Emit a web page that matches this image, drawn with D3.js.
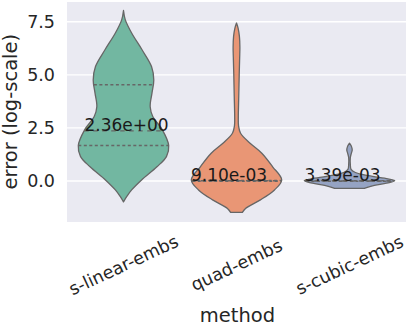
<!DOCTYPE html>
<html>
<head>
<meta charset="utf-8">
<script src="https://cdn.jsdelivr.net/npm/d3@7"></script>
<style>
  html, body { margin: 0; padding: 0; background: #ffffff; }
  svg { display: block; }
  text { font-family: "DejaVu Sans", sans-serif; }
</style>
</head>
<body>
<svg id="chart" width="410" height="326"></svg>
<script>
// ---------------- data ----------------
const categories = ["s-linear-embs", "quad-embs", "s-cubic-embs"];
const yTicks = [0.0, 2.5, 5.0, 7.5];
const medianLabels = ["2.36e+00", "9.10e-03", "3.39e-03"];
const medians = [2.36, 0.0091, 0.00339];
const q1s = [1.67, -0.01, -0.01];
const q3s = [4.53, 0.03, 0.02];
// density profiles: [value, relative half-width]
const densLinear = [
  [8.03, 0], [7.59, 0.04], [6.97, 0.18], [6.18, 0.41], [5.39, 0.62], [4.76, 0.67],
  [4.14, 0.63], [3.50, 0.59], [3.03, 0.65], [2.41, 0.86], [1.67, 1.0], [1.15, 0.95],
  [0.67, 0.74], [0.05, 0.40], [-0.42, 0.18], [-0.74, 0.07], [-0.98, 0]
];
const densQuad = [
  [7.44, 0], [7.2, 0.035], [6.8, 0.065], [6.3, 0.075], [5.8, 0.07], [5.0, 0.06],
  [4.0, 0.05], [3.0, 0.04], [2.6, 0.045], [2.25, 0.09], [1.78, 0.30], [1.31, 0.56],
  [0.67, 0.80], [0.05, 1.0], [-0.42, 0.84], [-0.9, 0.52], [-1.29, 0.2], [-1.48, 0.13]
];
const densCubic = [
  [1.78, 0], [1.62, 0.045], [1.46, 0.06], [1.3, 0.04], [1.1, 0.018], [0.8, 0.018],
  [0.55, 0.035], [0.4, 0.13], [0.25, 0.42], [0.1, 0.85], [0.02, 1.0], [-0.08, 0.88],
  [-0.2, 0.55], [-0.32, 0.36], [-0.35, 0.33]
];
const densities = [densLinear, densQuad, densCubic];
const colors = ["#72b7a1", "#e99675", "#95a3c3"];

// ---------------- layout ----------------
const svg = d3.select("#chart");
const plot = { left: 67, right: 406, top: 2, bottom: 222 };

const x = d3.scaleBand().domain(categories).range([plot.left, plot.right]).padding(0);
const y = d3.scaleLinear().domain([-1.93, 8.43]).range([plot.bottom, plot.top]);
const w = d3.scaleLinear().domain([0, 1]).range([0, x.bandwidth() * 0.4]);
const cx = c => x(c) + x.bandwidth() / 2;

// background
svg.append("rect")
  .attr("x", plot.left).attr("y", plot.top)
  .attr("width", plot.right - plot.left).attr("height", plot.bottom - plot.top)
  .attr("fill", "#eaeaf2");

// grid
svg.append("g").selectAll("line").data(yTicks).join("line")
  .attr("x1", plot.left).attr("x2", plot.right)
  .attr("y1", d => y(d)).attr("y2", d => y(d))
  .attr("stroke", "#ffffff").attr("stroke-width", 1.3);

// violins
const edge = "#666666";
categories.forEach((c, i) => {
  const prof = densities[i];
  const right = prof.map(d => [cx(c) + w(d[1]), y(d[0])]);
  const left = prof.slice().reverse().map(d => [cx(c) - w(d[1]), y(d[0])]);
  const line = d3.line().curve(d3.curveCatmullRom.alpha(0.5));
  const pathStr = line(right) + "L" + line(left).slice(1) + "Z";
  svg.append("path")
    .attr("d", pathStr)
    .attr("fill", colors[i])
    .attr("stroke", edge)
    .attr("stroke-width", 1.3)
    .attr("stroke-linejoin", "round");

  // inner quartile lines
  const halfAt = v => {
    for (let k = 0; k < prof.length - 1; k++) {
      const a = prof[k], b = prof[k + 1];
      if (v <= a[0] && v >= b[0]) {
        const t = (a[0] - v) / (a[0] - b[0]);
        return a[1] + t * (b[1] - a[1]);
      }
    }
    return 0;
  };
  [[q1s[i], "3,2.5"], [q3s[i], "3,2.5"], [medians[i], "4.5,4.5"]].forEach(([v, dash]) => {
    const hw = w(halfAt(v));
    svg.append("line")
      .attr("x1", cx(c) - hw).attr("x2", cx(c) + hw)
      .attr("y1", y(v)).attr("y2", y(v))
      .attr("stroke", edge).attr("stroke-width", 1.4)
      .attr("stroke-dasharray", dash);
  });
});

// median annotations
const labelShift = [3, -7.5, -7];
svg.append("g").selectAll("text").data(categories).join("text")
  .attr("x", (c, i) => cx(c) + labelShift[i])
  .attr("y", (c, i) => y(medians[i]))
  .attr("text-anchor", "middle")
  .attr("font-size", 17)
  .attr("fill", "#1a1a1a")
  .text((c, i) => medianLabels[i]);

// y axis
const yAxis = svg.append("g")
  .attr("transform", `translate(${plot.left},0)`)
  .call(d3.axisLeft(y).tickValues(yTicks).tickSize(0).tickPadding(12).tickFormat(d3.format(".1f")));
yAxis.select(".domain").remove();
yAxis.selectAll("text")
  .attr("font-size", 17.5)
  .attr("fill", "#262626")
  .attr("font-family", "DejaVu Sans");

// x axis
const xAxis = svg.append("g")
  .attr("transform", `translate(0,${plot.bottom})`)
  .call(d3.axisBottom(x).tickSize(0));
xAxis.select(".domain").remove();
xAxis.selectAll("text")
  .attr("font-size", 17.5)
  .attr("fill", "#262626")
  .attr("font-family", "DejaVu Sans")
  .attr("text-anchor", "middle")
  .attr("y", 0)
  .attr("dy", "0.35em")
  .attr("transform", "translate(0,43) rotate(-25)");

// axis titles
svg.append("text")
  .attr("transform", `translate(16.5,111.7) rotate(-90)`)
  .attr("text-anchor", "middle")
  .attr("font-size", 19.5)
  .attr("fill", "#262626")
  .text("error (log-scale)");

svg.append("text")
  .attr("x", (plot.left + plot.right) / 2 + 1)
  .attr("y", 322)
  .attr("text-anchor", "middle")
  .attr("font-size", 19.5)
  .attr("fill", "#262626")
  .text("method");
</script>
</body>
</html>
